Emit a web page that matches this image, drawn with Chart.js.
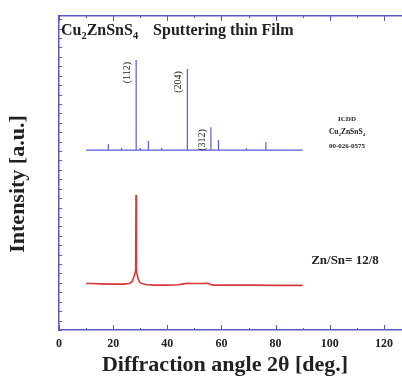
<!DOCTYPE html>
<html>
<head>
<meta charset="utf-8">
<script src="https://cdn.jsdelivr.net/npm/chart.js@4.4.1/dist/chart.umd.min.js"></script>
<style>
  html, body { margin: 0; padding: 0; background: #fff; overflow: hidden; }
  canvas { display: block; }
</style>
</head>
<body>
<canvas id="xrd" width="420" height="381"></canvas>
<script>
// ---- data ----
// reference pattern (ICDD stick lines), x in deg 2theta
const refStart = 10;
const refEnd = 90;
const refBase = 57.3;
const refPeaks = [18.2, 23.1, 28.5, 30.0, 33.0, 37.9, 47.4, 56.1, 58.9, 69.2, 76.4];
const refTops  = [59.2, 58.0, 86.0, 58.0, 60.2, 58.0, 83.1, 64.6, 60.5, 57.9, 59.9];
const refLabels = ['', '', '(112)', '', '', '', '(204)', '(312)', '', '', ''];

// measured film, Zn/Sn = 12/8
const filmX = [10, 12, 15, 20, 24, 26, 27, 27.6, 28.0, 28.3, 28.45, 28.6, 28.9, 29.3, 30, 32, 35, 40, 44, 46, 47.5, 49, 52, 55, 56, 57, 60, 70, 80, 90];
const filmY = [14.8, 14.8, 14.7, 14.6, 14.6, 14.8, 15.4, 16.8, 17.8, 19.0, 43.0, 19.0, 17.5, 16.0, 15.0, 14.5, 14.3, 14.3, 14.4, 14.7, 14.9, 14.8, 14.8, 14.9, 14.5, 14.3, 14.3, 14.3, 14.2, 14.2];

const xTicks = [0, 20, 40, 60, 80, 100, 120];
const xTitle = 'Diffraction angle 2θ [deg.]';
const yTitle = 'Intensity [a.u.]';

// build the stick pattern as a single line
const refData = [{ x: refStart, y: refBase }];
refPeaks.forEach((p, i) => {
    refData.push({ x: p, y: refBase });
    refData.push({ x: p, y: refTops[i] });
    refData.push({ x: p, y: refBase });
});
refData.push({ x: refEnd, y: refBase });

const filmData = filmX.map((x, i) => ({ x: x, y: filmY[i] }));

const axisColor = '#5a5ac0';
const serif = '"Liberation Serif", "DejaVu Serif", serif';

// subscripts helper
function drawChem(ctx, parts, x, y, size) {
    // parts: [text, isSub]
    parts.forEach(([t, sub]) => {
        ctx.font = 'bold ' + (sub ? size * 0.65 : size) + 'px ' + serif;
        ctx.fillText(t, x, sub ? y + size * 0.25 : y);
        x += ctx.measureText(t).width;
    });
    return x;
}
function chemWidth(ctx, parts, size) {
    let w = 0;
    parts.forEach(([t, sub]) => {
        ctx.font = 'bold ' + (sub ? size * 0.65 : size) + 'px ' + serif;
        w += ctx.measureText(t).width;
    });
    return w;
}
const czts = [['Cu', false], ['2', true], ['ZnSnS', false], ['4', true]];

const decor = {
    id: 'decor',
    afterDraw(chart) {
        const ctx = chart.ctx;
        const xs = chart.scales.x, ys = chart.scales.y;
        const area = chart.chartArea;
        ctx.save();
        ctx.strokeStyle = axisColor;
        ctx.lineWidth = 1;
        // inside tick marks
        ctx.beginPath();
        for (let v = 0; v <= 130; v += 10) {
            const px = Math.round(xs.getPixelForValue(v)) + 0.5;
            const len = v % 20 === 0 ? 5 : 2;
            ctx.moveTo(px, area.bottom); ctx.lineTo(px, area.bottom - len);
            ctx.moveTo(px, area.top); ctx.lineTo(px, area.top + len);
        }
        for (let v = 0; v <= 100; v += 3) {
            const py = Math.round(ys.getPixelForValue(v)) + 0.5;
            ctx.moveTo(area.left, py); ctx.lineTo(area.left + 3, py);
        }
        ctx.stroke();

        ctx.fillStyle = '#222';
        // axis titles
        ctx.font = 'bold 22px ' + serif;
        ctx.textAlign = 'center';
        ctx.textBaseline = 'middle';
        ctx.fillText(xTitle, 225, 365);
        ctx.save();
        ctx.translate(18, 184);
        ctx.rotate(-Math.PI / 2);
        ctx.fillText(yTitle, 0, 0);
        ctx.restore();

        ctx.textBaseline = 'alphabetic';
        ctx.textAlign = 'left';
        // title
        let tx = drawChem(ctx, czts, area.left + 2, area.top + 19, 16);
        ctx.font = 'bold 16px ' + serif;
        ctx.fillText('Sputtering thin Film', tx + 15, area.top + 19);

        // peak labels, rotated
        ctx.font = '10px ' + serif;
        ctx.textAlign = 'right';
        ctx.textBaseline = 'middle';
        refPeaks.forEach((p, i) => {
            if (!refLabels[i]) return;
            const px = xs.getPixelForValue(p) - 9;
            const py = ys.getPixelForValue(refTops[i]) + 2;
            ctx.save();
            ctx.translate(px, py);
            ctx.rotate(-Math.PI / 2);
            ctx.fillText(refLabels[i], 0, 0);
            ctx.restore();
        });

        // ICDD block
        ctx.textBaseline = 'alphabetic';
        ctx.textAlign = 'center';
        const cx = 347;
        ctx.font = 'bold 7px ' + serif;
        ctx.fillText('ICDD', cx, 121);
        ctx.textAlign = 'left';
        const w = chemWidth(ctx, czts, 7.5);
        drawChem(ctx, czts, cx - w / 2, 134, 7.5);
        ctx.textAlign = 'center';
        ctx.font = 'bold 7px ' + serif;
        ctx.fillText('00-026-0575', cx, 148);

        ctx.font = 'bold 13px ' + serif;
        ctx.fillText('Zn/Sn= 12/8', 345, 264);
        ctx.restore();
    }
};

new Chart(document.getElementById('xrd'), {
    type: 'line',
    data: {
        datasets: [
            {
                label: 'ICDD',
                data: refData,
                borderColor: '#5b5bd6',
                borderWidth: 1.2,
                pointRadius: 0,
                tension: 0
            },
            {
                label: 'Zn/Sn= 12/8',
                data: filmData,
                borderColor: '#d43a3a',
                borderWidth: 1.6,
                pointRadius: 0,
                tension: 0
            }
        ]
    },
    options: {
        responsive: false,
        animation: false,
        layout: { padding: { left: 0, right: 9, top: 0, bottom: 0 } },
        plugins: {
            legend: { display: false },
            tooltip: { enabled: false }
        },
        scales: {
            x: {
                type: 'linear',
                min: 0,
                max: 130,
                afterBuildTicks: s => { s.ticks = xTicks.map(v => ({ value: v })); },
                afterFit: s => { s.height = 51; },
                grid: { display: false, drawTicks: false },
                border: { display: true, color: axisColor, width: 1.5 },
                ticks: {
                    padding: 7,
                    color: '#222',
                    font: { family: serif, size: 12, weight: 'bold' }
                }
            },
            x2: {
                type: 'linear',
                position: 'top',
                min: 0,
                max: 130,
                afterFit: s => { s.height = 16; },
                grid: { display: false, drawTicks: false },
                border: { display: true, color: axisColor, width: 1.5 },
                ticks: { display: false }
            },
            y: {
                min: 0,
                max: 100,
                afterFit: s => { s.width = 59; },
                grid: { display: false, drawTicks: false },
                border: { display: true, color: axisColor, width: 1.5 },
                ticks: { display: false }
            }
        }
    },
    plugins: [decor]
});
</script>
</body>
</html>
